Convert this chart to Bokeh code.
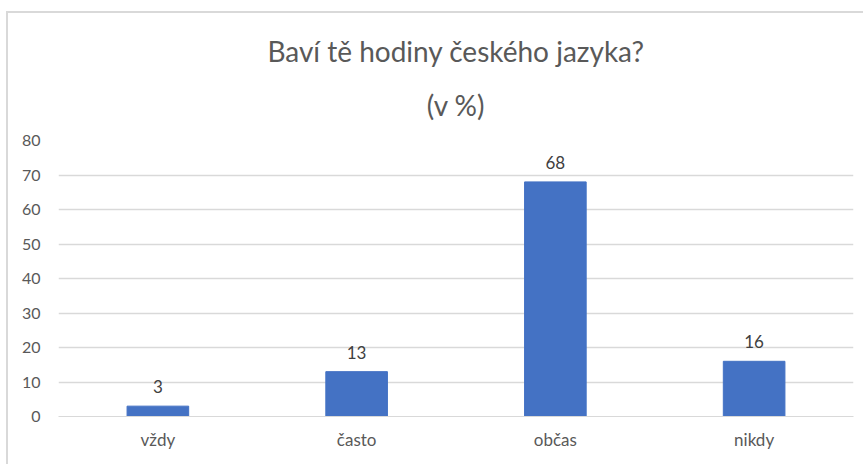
from bokeh.plotting import figure
from bokeh.models import ColumnDataSource, LabelSet, Title, FixedTicker
from bokeh.core.properties import value
from bokeh.embed import file_html
from bokeh.resources import INLINE

categories = ["vždy", "často", "občas", "nikdy"]
values = [3, 13, 68, 16]
y_ticks = [0, 10, 20, 30, 40, 50, 60, 70, 80]
title_line1 = "Baví tě hodiny českého jazyka?"
title_line2 = "(v %)"

FONT = "Lato"
src = ColumnDataSource(dict(cat=categories, val=values, lab=[str(v) for v in values]))

p = figure(x_range=categories, y_range=(0, 80), width=857, height=453,
           output_backend="svg", toolbar_location=None,
           min_border_left=50, min_border_right=12, min_border_top=127,
           min_border_bottom=50)
p.styles = {"border-left": "2px solid #d9d9d9", "border-top": "2px solid #d9d9d9",
            "margin-left": "6px", "margin-top": "11px"}
p.outline_line_color = None
p.background_fill_color = "white"

p.vbar(x="cat", top="val", width=0.31, source=src, color="#4472C4")

labels = LabelSet(x="cat", y="val", text="lab", source=src, text_align="center",
                  text_baseline="bottom", y_offset=13, text_font_size="17px",
                  text_color="#404040", text_font=value(FONT))
p.add_layout(labels)

t2 = Title(text=title_line2, align="center", text_font_size="28px",
           text_font=FONT, text_font_style="normal", text_color="#595959",
           standoff=37)
t1 = Title(text=title_line1, align="center", text_font_size="28px",
           text_font=FONT, text_font_style="normal", text_color="#595959",
           standoff=0)
p.add_layout(t2, "above")
p.add_layout(t1, "above")

p.yaxis.ticker = FixedTicker(ticks=y_ticks)
p.yaxis.axis_line_color = None
p.yaxis.major_tick_line_color = None
p.yaxis.minor_tick_line_color = None
p.yaxis.major_label_standoff = 12
p.yaxis.major_label_text_font_size = "16px"
p.yaxis.major_label_text_color = "#595959"
p.yaxis.major_label_text_font = FONT

p.xaxis.axis_line_color = "#d9d9d9"
p.xaxis.major_tick_line_color = None
p.xaxis.minor_tick_line_color = None
p.xaxis.major_label_standoff = 6
p.xaxis.major_label_text_font_size = "17px"
p.xaxis.major_label_text_color = "#595959"
p.xaxis.major_label_text_font = FONT

p.xgrid.grid_line_color = None
p.ygrid.grid_line_color = "#d9d9d9"
p.ygrid.grid_line_width = 1.5

open("out.html", "w").write(file_html(p, INLINE))
